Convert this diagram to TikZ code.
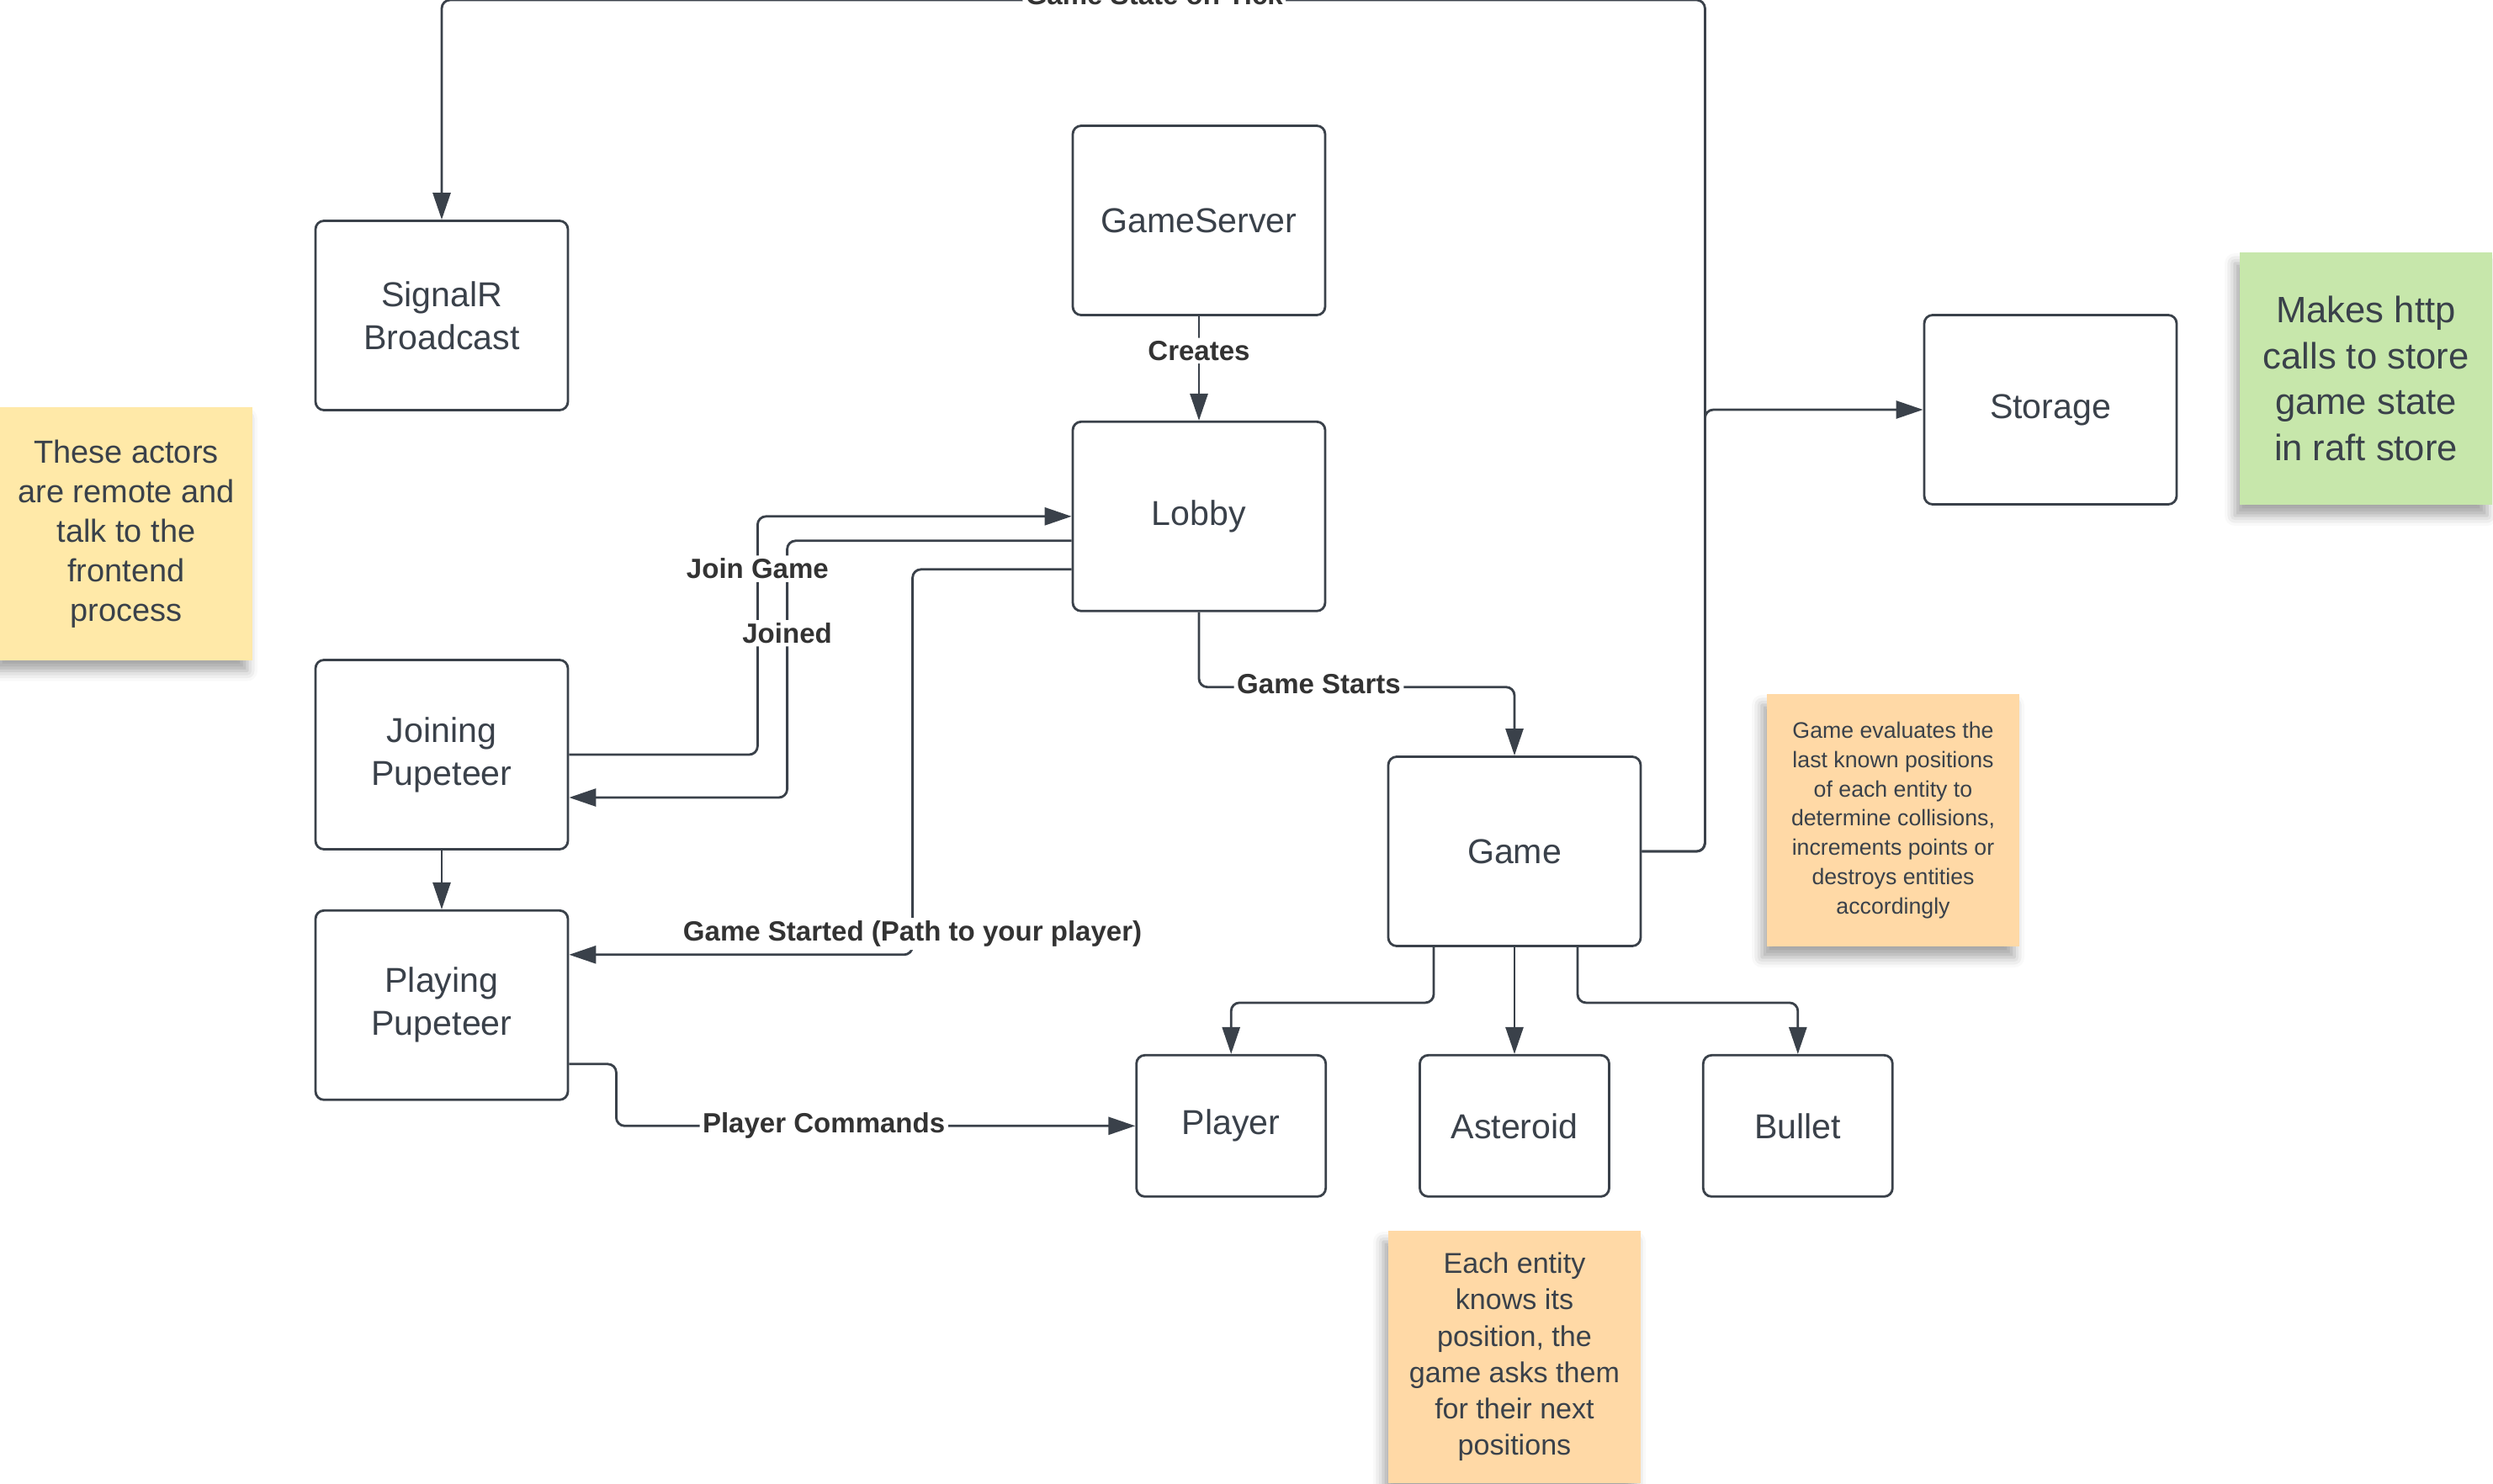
\documentclass[tikz,border=0pt]{standalone}
\usepackage{fontspec}
\setmainfont{Liberation Sans}
\usepackage{tikz}
\usetikzlibrary{arrows.meta, positioning, shadows.blur}

\definecolor{ink}{HTML}{3A414A}
\definecolor{stickyyellow}{HTML}{FFE9A8}
\definecolor{stickypeach}{HTML}{FFD9A6}
\definecolor{stickygreen}{HTML}{C7E7AB}

\begin{document}
\begin{tikzpicture}[->,>={Triangle[length=3.2mm,width=2.1mm]},line width=0.8pt,color=ink,rounded corners=1mm]

                \tikzset{actor/.style={draw, rectangle, minimum width=3cm, minimum height=2.25cm, align=center, font=\fontsize{11.7}{14.5}\selectfont},
                         entity/.style={actor, minimum width=2.25cm, minimum height=1.68cm},
                         msg/.style={fill=white, text=black!80, inner sep=1pt, font=\bfseries\fontsize{9.4}{11}\selectfont},
                         sticky/.style={sharp corners, minimum width=3cm, minimum height=3cm, align=center,
                                        blur shadow={shadow xshift=-0.6mm, shadow yshift=-1.3mm, shadow blur radius=1.2mm, shadow opacity=35}}}

                \useasboundingbox (0,0) rectangle (29.63,-17.64);
                \coordinate (topline) at (0,0);

                \node[actor] (gameserver) at (14.25,-2.62) {GameServer};
                \node[actor, below=1.24cm of gameserver] (lobby) {Lobby};
                \node[actor] (signalr) at (5.25,-3.75) {SignalR\\Broadcast};
                \node[actor] (joining) at (5.25,-8.97) {Joining\\Pupeteer};
                \node[actor, below=0.7cm of joining] (playing) {Playing\\Pupeteer};
                \node[actor] (game) at (18,-10.12) {Game};
                \node[actor] (storage) at (24.37,-4.87) {Storage};
                \node[entity, below=1.27cm of game] (asteroid) {Asteroid};
                \node[entity, left=1.09cm of asteroid] (player) {Player};
                \node[entity, right=1.09cm of asteroid] (bullet) {Bullet};

                \node[sticky, fill=stickyyellow, font=\fontsize{10.8}{13.4}\selectfont] (remote) at (1.5,-6.345)
                     {These actors\\are remote and\\talk to the\\frontend\\process};
                \node[sticky, fill=stickygreen, font=\fontsize{12.4}{15.5}\selectfont] (raft) at (28.12,-4.5)
                     {Makes http\\calls to store\\game state\\in raft store};
                \node[sticky, fill=stickypeach, font=\fontsize{7.6}{9.9}\selectfont] (collide) at (22.5,-9.75)
                     {Game evaluates the\\last known positions\\of each entity to\\determine collisions,\\increments points or\\destroys entities\\accordingly};
                \node[sticky, fill=stickypeach, font=\fontsize{9.7}{12.3}\selectfont] (positions) at (18,-16.13)
                     {Each entity\\knows its\\position, the\\game asks them\\for their next\\positions};

                \draw (gameserver) -- node[msg, pos=0.33] {Creates} (lobby);
                \draw (joining.east) -- ++(2.24,0) |- coordinate[pos=0.39] (joinat) (lobby.west);
                \draw ([yshift=-2.9mm]lobby.west) -- ++(-3.38,0) |- coordinate[pos=0.18] (joinedat) ([yshift=-5.1mm]joining.east);
                \draw ([yshift=-6.3mm]lobby.west) -- ++(-1.89,0) |- node[msg, pos=0.473] {Game Started (Path to your player)} ([yshift=6mm]playing.east);
                \draw (lobby.south) -- ++(0,-0.89) -| node[msg, pos=0.19, yshift=0.4mm] {Game Starts} (game.north);
                \draw (joining) -- (playing);
                \draw ([yshift=-7mm]playing.east) -- ++(0.56,0) |- node[msg, pos=0.70] {Player Commands} (player.west);
                \draw ([xshift=-9.6mm]game.south) -- ++(0,-0.66) -| (player.north);
                \draw (game) -- (asteroid);
                \draw ([xshift=7.5mm]game.south) -- ++(0,-0.66) -| (bullet.north);
                \draw (game.east) -- ++(0.75,0) |- coordinate[pos=0.718] (tickat) (signalr.north |- topline) -- (signalr.north);
                \draw (game.east) -- ++(0.75,0) |- (storage.west);

                \node[msg] (joinlabel) at (joinat) {Join Game};
                \node[msg] (joinedlabel) at (joinedat) {Joined};
                \node[msg, anchor=base] (ticklabel) at ([yshift=-0.6mm]tickat) {Game State on Tick};
            \end{tikzpicture}
\end{document}
